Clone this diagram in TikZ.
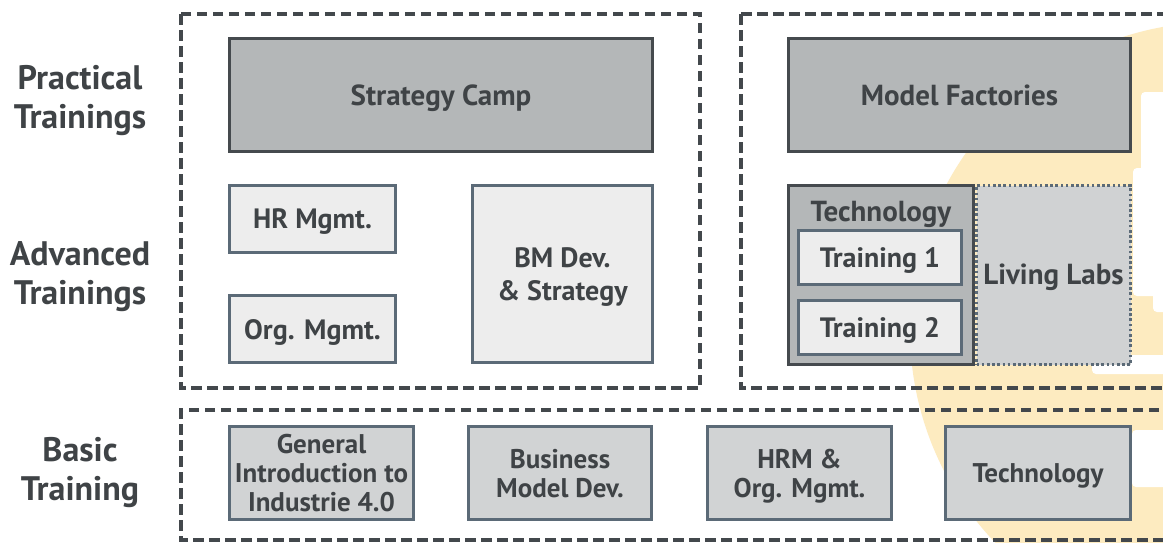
\documentclass[tikz,border=0pt]{standalone}
\usepackage{fontspec}
\setmainfont{PT Sans}
\definecolor{txt}{HTML}{3F4346}
\definecolor{dashc}{HTML}{43484C}
\definecolor{darkfill}{HTML}{B4B7B8}
\definecolor{darkline}{HTML}{454A4E}
\definecolor{lightfill}{HTML}{EDEDED}
\definecolor{blueline}{HTML}{5B6A77}
\definecolor{basicfill}{HTML}{D1D3D4}
\definecolor{livingfill}{HTML}{D0D2D3}
\definecolor{logoyellow}{HTML}{FDEBC0}
\tikzset{
  dashbox/.style={draw=dashc, line width=3.6pt, dash pattern=on 10.5pt off 5.5pt},
  darkbox/.style={draw=darkline, fill=darkfill, line width=3.4pt, text=txt, font=\fontsize{29}{34}\selectfont\bfseries, inner sep=0pt, text depth=0pt},
  lightbox/.style={draw=blueline, fill=lightfill, line width=3.4pt, text=txt, font=\fontsize{28}{33}\selectfont\bfseries, align=center, inner sep=0pt, text depth=0pt},
  basicbox/.style={draw=blueline, fill=basicfill, line width=3.4pt, text=txt, font=\fontsize{27}{29}\selectfont\bfseries, align=center, inner sep=0pt, minimum height=93pt, text depth=0pt},
  techbox/.style={draw=darkline, fill=darkfill, line width=3.8pt, inner sep=0pt},
  livingbox/.style={draw=blueline, fill=livingfill, line width=3.2pt, dash pattern=on 2.6pt off 2.6pt, inner sep=0pt},
  rowlabel/.style={text=txt, font=\fontsize{34}{39}\selectfont\bfseries, align=center, text depth=0pt},
  plain/.style={text=txt, font=\fontsize{29}{34}\selectfont\bfseries, inner sep=0pt, text depth=0pt}
}
\begin{document}
\begin{tikzpicture}[x=1pt,y=-1pt]
\useasboundingbox (0,0) rectangle (1163,542);
\fill[white] (0,0) rectangle (1163,542);
\begin{scope}
  \clip (0,0) rectangle (1163,542);
  \fill[logoyellow] (1218,330) circle[radius=308pt];
  \fill[white, rounded corners=4pt] (1141,92) rectangle (1175,172);
  \fill[white, rounded corners=4pt] (1133,168) rectangle (1175,296);
  \fill[white, rounded corners=4pt] (1153,290) rectangle (1175,312);
  \fill[white, rounded corners=4pt] (1092,355) rectangle (1175,374);
  \fill[white, rounded corners=4pt] (1132,430) rectangle (1175,487);
  \draw[dashbox] (181,14) rectangle (700,388);
  \draw[dashbox] (741,14) -- (1175,14);
  \draw[dashbox] (741,14) -- (741,388) -- (1175,388);
  \draw[dashbox] (1175,410) -- (181,410) -- (181,540) -- (1175,540);
\end{scope}

% row labels
\node[rowlabel] (lpr) at (80,97) {Practical\\Trainings};
\node[rowlabel] (lad) at (80,273) {Advanced\\Trainings};
\node[rowlabel] (lba) at (80,469) {Basic\\Training};

% practical
\node[darkbox, minimum width=423pt, minimum height=113pt] (strat) at (441,95) {Strategy Camp};
\node[darkbox, minimum width=342pt, minimum height=113pt] (model) at (959.5,95) {Model Factories};

% advanced left
\node[lightbox, minimum width=166pt, minimum height=67pt] (hr) at (312.5,219) {HR Mgmt.};
\node[lightbox, minimum width=166pt, minimum height=67pt] (org) at (312.5,329) {Org. Mgmt.};
\node[lightbox, minimum width=180pt, minimum height=177pt] (bm) at (562.5,274) {BM Dev.\\\& Strategy};

% advanced right
\node[livingbox, minimum width=154pt, minimum height=179pt] (living) at (1053.5,275) {};
\node[plain] (livingt) at (1053.5,274) {Living Labs};
\node[techbox, minimum width=185pt, minimum height=179pt] (techc) at (881,275) {};
\node[plain] (techt) at (881,211) {Technology};
\node[lightbox, minimum width=163pt, minimum height=54pt] (tr1) at (880,257.5) {Training 1};
\node[lightbox, minimum width=163pt, minimum height=54pt] (tr2) at (880,327.5) {Training 2};

% basic
\node[basicbox, minimum width=184pt] (gen) at (321.5,473) {General\\Introduction to\\Industrie 4.0};
\node[basicbox, minimum width=183pt] (bmd) at (560,473) {Business\\Model Dev.};
\node[basicbox, minimum width=184pt] (hrm) at (799.5,473) {HRM \&\\Org. Mgmt.};
\node[basicbox, minimum width=185pt] (tech) at (1038,473) {Technology};
\end{tikzpicture}
\end{document}
